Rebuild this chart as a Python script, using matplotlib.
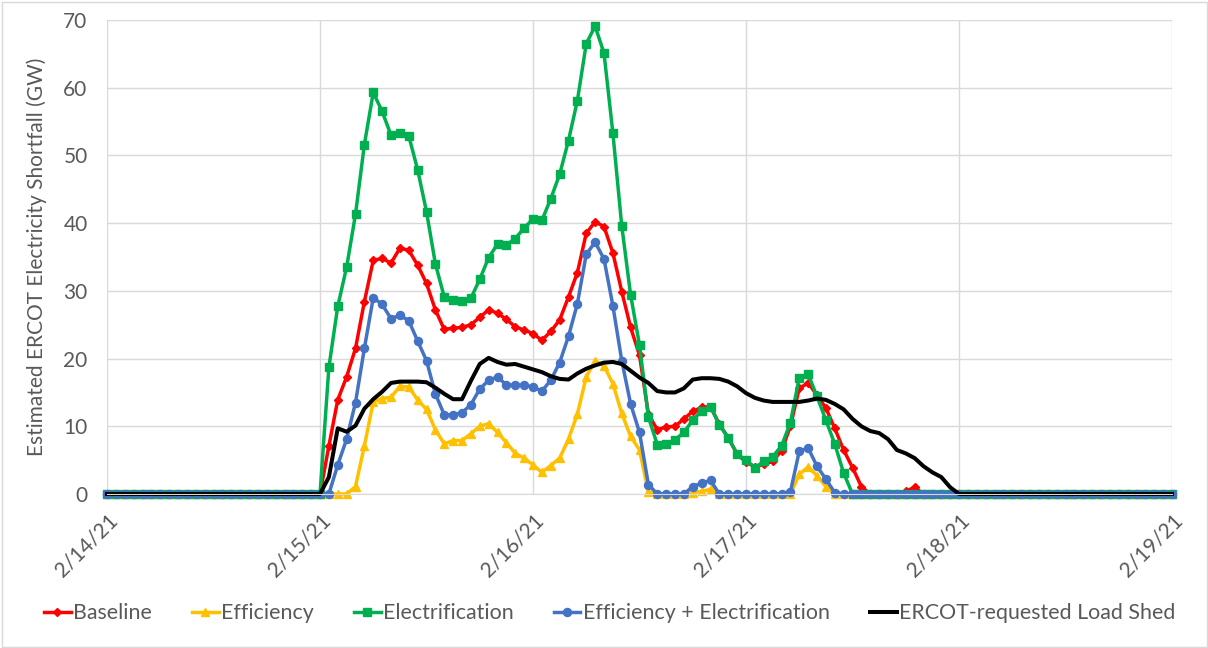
import matplotlib
matplotlib.use("Agg")
import matplotlib.pyplot as plt
from matplotlib.patches import Rectangle
import numpy as np

plt.rcParams['font.family'] = ['Lato', 'DejaVu Sans']

# ---- data: hourly values, 2/14/21 00:00 through 2/19/21 00:00 (121 points) ----
day_labels = ["2/14/21", "2/15/21", "2/16/21", "2/17/21", "2/18/21", "2/19/21"]

baseline = (
    [0, 0, 0, 0, 0, 0, 0, 0, 0, 0, 0, 0, 0, 0, 0, 0, 0, 0, 0, 0, 0, 0, 0, 0] +
    [0, 7.1, 13.9, 17.3, 21.5, 28.4, 34.5, 34.8, 34.1, 36.3, 36.0, 33.8,
     31.1, 27.2, 24.3, 24.5, 24.6, 25.0, 26.1, 27.2, 26.7, 25.8, 24.7, 24.2] +
    [23.7, 22.7, 24.0, 25.7, 29.1, 32.7, 38.5, 40.2, 39.5, 35.6, 29.9, 24.6,
     20.5, 11.8, 9.5, 9.9, 10.0, 11.1, 12.2, 12.8, 12.9, 10.3, 8.3, 5.9] +
    [4.7, 4.0, 4.4, 4.8, 6.4, 10.0, 15.6, 16.4, 14.6, 12.7, 9.7, 6.5,
     3.9, 1.1, 0, 0, 0, 0, 0.4, 1.0, 0, 0, 0, 0] +
    [0, 0, 0, 0, 0, 0, 0, 0, 0, 0, 0, 0, 0, 0, 0, 0, 0, 0, 0, 0, 0, 0, 0, 0] +
    [0]
)

efficiency = (
    [0, 0, 0, 0, 0, 0, 0, 0, 0, 0, 0, 0, 0, 0, 0, 0, 0, 0, 0, 0, 0, 0, 0, 0] +
    [0, 0, 0, 0, 1.1, 7.1, 13.6, 14.1, 14.3, 15.9, 15.8, 13.9,
     12.5, 9.5, 7.4, 7.9, 7.9, 8.9, 10.0, 10.4, 9.1, 7.6, 6.0, 5.3] +
    [4.3, 3.2, 4.2, 5.3, 8.1, 11.8, 17.3, 19.7, 18.9, 16.3, 11.9, 8.5,
     6.5, 0.3, 0, 0, 0, 0, 0.2, 0.4, 0.7, 0, 0, 0] +
    [0, 0, 0, 0, 0, 0, 2.9, 4.0, 2.7, 1.1, 0, 0,
     0, 0, 0, 0, 0, 0, 0, 0, 0, 0, 0, 0] +
    [0, 0, 0, 0, 0, 0, 0, 0, 0, 0, 0, 0, 0, 0, 0, 0, 0, 0, 0, 0, 0, 0, 0, 0] +
    [0]
)

electrification = (
    [0, 0, 0, 0, 0, 0, 0, 0, 0, 0, 0, 0, 0, 0, 0, 0, 0, 0, 0, 0, 0, 0, 0, 0] +
    [0, 18.7, 27.7, 33.5, 41.3, 51.6, 59.3, 56.5, 53.0, 53.3, 52.9, 47.9,
     41.7, 34.0, 29.1, 28.6, 28.5, 28.9, 31.7, 34.9, 36.9, 36.8, 37.7, 39.3] +
    [40.6, 40.4, 43.6, 47.2, 52.2, 58.1, 66.5, 69.1, 65.1, 53.3, 39.6, 29.4,
     22.0, 11.4, 7.3, 7.4, 8.0, 9.1, 10.9, 12.3, 12.9, 10.2, 8.3, 5.9] +
    [5.0, 3.9, 4.8, 5.5, 7.1, 10.5, 17.2, 17.7, 14.4, 10.9, 7.4, 3.1,
     0, 0, 0, 0, 0, 0, 0, 0, 0, 0, 0, 0] +
    [0, 0, 0, 0, 0, 0, 0, 0, 0, 0, 0, 0, 0, 0, 0, 0, 0, 0, 0, 0, 0, 0, 0, 0] +
    [0]
)

eff_plus_elec = (
    [0, 0, 0, 0, 0, 0, 0, 0, 0, 0, 0, 0, 0, 0, 0, 0, 0, 0, 0, 0, 0, 0, 0, 0] +
    [0, 0, 4.3, 8.1, 13.5, 21.5, 29.0, 28.0, 25.9, 26.4, 25.6, 22.6,
     19.7, 14.8, 11.7, 11.7, 12.0, 13.2, 15.5, 16.8, 17.3, 16.1, 16.1, 16.1] +
    [15.8, 15.2, 16.8, 19.4, 23.3, 28.1, 35.4, 37.2, 34.7, 27.8, 19.7, 13.3,
     9.1, 1.4, 0, 0, 0, 0, 1.1, 1.6, 2.0, 0, 0, 0] +
    [0, 0, 0, 0, 0, 0.3, 6.3, 6.8, 4.1, 2.2, 0.2, 0,
     0, 0, 0, 0, 0, 0, 0, 0, 0, 0, 0, 0] +
    [0, 0, 0, 0, 0, 0, 0, 0, 0, 0, 0, 0, 0, 0, 0, 0, 0, 0, 0, 0, 0, 0, 0, 0] +
    [0]
)

ercot_load_shed = (
    [0, 0, 0, 0, 0, 0, 0, 0, 0, 0, 0, 0, 0, 0, 0, 0, 0, 0, 0, 0, 0, 0, 0, 0] +
    [0, 2.5, 9.7, 9.2, 10.1, 12.6, 14.0, 15.1, 16.4, 16.6, 16.6, 16.6,
     16.5, 15.7, 14.8, 14.0, 14.0, 16.7, 19.2, 20.1, 19.5, 19.1, 19.2, 18.8] +
    [18.4, 18.0, 17.4, 17.0, 16.9, 17.8, 18.5, 19.0, 19.4, 19.5, 19.2, 18.2,
     17.2, 16.4, 15.2, 15.0, 15.0, 15.6, 16.9, 17.1, 17.1, 17.0, 16.6, 15.9] +
    [14.9, 14.2, 13.8, 13.6, 13.6, 13.6, 13.6, 13.8, 14.1, 13.9, 13.3, 12.5,
     11.1, 10.0, 9.3, 9.0, 8.1, 6.5, 6.0, 5.3, 4.1, 3.2, 2.5, 1.0] +
    [0, 0, 0, 0, 0, 0, 0, 0, 0, 0, 0, 0, 0, 0, 0, 0, 0, 0, 0, 0, 0, 0, 0, 0] +
    [0]
)

series_names = ["Baseline", "Efficiency", "Electrification",
                "Efficiency + Electrification", "ERCOT-requested Load Shed"]

# ---- figure ----
W, H = 1208, 648
fig = plt.figure(figsize=(W / 100, H / 100), dpi=100)
fig.patch.set_facecolor('white')
fig.add_artist(Rectangle((1.5 / W, 1.5 / H), (W - 3) / W, (H - 3) / H,
                         transform=fig.transFigure, fill=False,
                         edgecolor='#D9D9D9', linewidth=1.0))

L, R, T, B = 107, 1172, 20, 494
ax = fig.add_axes([L / W, 1 - B / H, (R - L) / W, (B - T) / H])

hours = np.arange(len(baseline))

styles = [
    (baseline, '#FF0000', 'D', 4.4),
    (efficiency, '#FFC000', '^', 6.2),
    (electrification, '#00B050', 's', 5.8),
    (eff_plus_elec, '#4472C4', 'o', 5.8),
]
handles = []
for (vals, col, mk, ms), name in zip(styles, series_names[:4]):
    h, = ax.plot(hours, vals, color=col, lw=2.5, marker=mk, markersize=ms,
                 markerfacecolor=col, markeredgecolor=col, label=name,
                 solid_joinstyle='round', clip_on=False)
    handles.append(h)
h, = ax.plot(hours, ercot_load_shed, color='black', lw=2.9,
             label=series_names[4], solid_joinstyle='round', clip_on=False)
handles.append(h)

ax.set_xlim(0, 120)
ax.set_ylim(0, 70)
ax.set_yticks(np.arange(0, 71, 10))
ax.set_xticks(np.arange(0, 121, 24))
ax.set_xticklabels(day_labels, rotation=45, ha='right', va='top',
                   rotation_mode='anchor')
ax.grid(True, color='#D9D9D9', linewidth=1.0)
ax.set_axisbelow(True)
for s in ax.spines.values():
    s.set_visible(False)
ax.spines['bottom'].set_visible(True)
ax.spines['bottom'].set_color('#D9D9D9')
ax.tick_params(axis='both', length=0, labelcolor='#595959', labelsize=15)
ax.tick_params(axis='y', pad=14)
ax.tick_params(axis='x', pad=12)

ax.set_ylabel("Estimated ERCOT Electricity Shortfall (GW)", fontsize=15,
              color='#595959', labelpad=12)

fig.legend(handles=handles, labels=series_names, loc='center',
           bbox_to_anchor=(609.5 / W, 1 - 613 / H), ncol=5, frameon=False,
           fontsize=15.4, handlelength=1.26, handletextpad=0.1,
           columnspacing=1.87, labelcolor='#595959')

fig.savefig("out.png", dpi=100, facecolor='white')
